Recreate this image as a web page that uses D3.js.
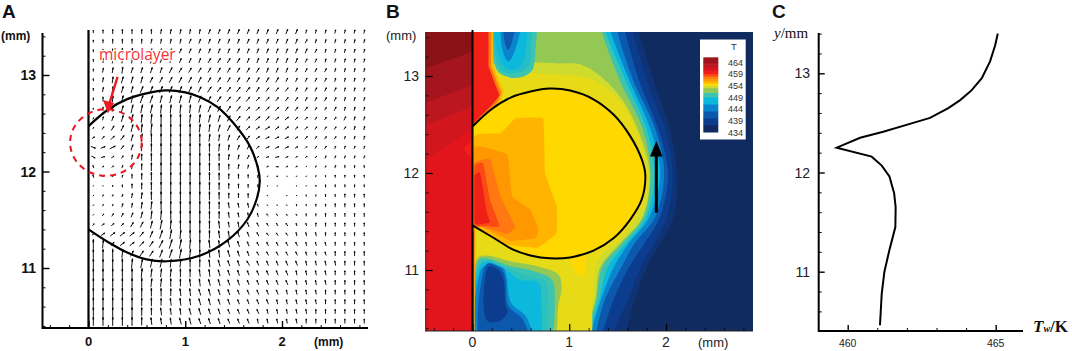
<!DOCTYPE html>
<html>
<head>
<meta charset="utf-8">
<script src="https://cdn.jsdelivr.net/npm/d3@7"></script>
<style>
  body { margin: 0; background: #fff; }
  svg { display: block; font-family: "Liberation Sans", Arial, sans-serif; }
  .axis path, .axis line { stroke: #000; }
  .soft { filter: blur(0.4px); }
  .softer { filter: blur(0.7px); }
</style>
</head>
<body>
<div id="chart"></div>
<script>
// ---- panel A: velocity field, hundredths of a mm, rows top to bottom
var vecX = [0.05,0.15,0.25,0.35,0.45,0.55,0.65,0.75,0.85,0.95,1.05,1.15,1.25,1.35,1.45,1.55,1.65,1.75,1.85,1.95,2.05,2.15,2.25,2.35,2.45,2.55,2.65,2.75,2.85];
var vecY = [13.45,13.35,13.25,13.15,13.05,12.95,12.85,12.75,12.65,12.55,12.45,12.35,12.25,12.15,12.05,11.95,11.85,11.75,11.65,11.55,11.45,11.35,11.25,11.15,11.05,10.95,10.85,10.75,10.65,10.55,10.45];
var vecU = [
  [0,0,0,0,0,0,0,1,1,1,1,1,2,2,2,2,2,2,2,2,2,2,1,1,1,1,1,1,1],
  [0,0,0,0,0,0,1,1,1,1,2,2,2,2,2,2,2,2,2,2,2,2,2,1,1,1,1,1,1],
  [0,0,0,0,1,1,1,1,2,2,2,2,2,2,2,2,2,2,2,2,2,2,2,2,1,1,1,1,1],
  [0,0,1,1,1,1,2,2,2,2,2,2,3,3,3,3,2,2,2,2,2,2,2,2,1,1,1,1,1],
  [0,1,1,1,2,2,2,2,3,3,3,3,3,3,3,3,3,3,2,2,2,2,2,2,2,1,1,1,1],
  [0,1,1,2,2,2,3,3,3,3,3,3,3,3,3,3,3,3,3,3,2,2,2,2,2,1,1,1,1],
  [0,1,1,2,2,3,3,3,3,3,3,3,4,4,4,4,4,3,3,3,3,2,2,2,2,2,1,1,1],
  [0,0,1,2,2,3,3,2,2,2,2,3,3,4,4,4,4,4,4,3,3,3,2,2,2,2,1,1,1],
  [0,0,1,2,2,2,2,1,1,1,1,2,3,3,4,4,4,4,4,4,3,3,3,2,2,2,1,1,1],
  [1,1,2,2,2,1,1,0,0,0,1,1,2,2,3,4,4,5,4,4,4,3,3,2,2,2,2,1,1],
  [1,2,3,3,2,1,1,0,0,0,0,1,1,2,3,3,4,4,5,4,4,3,3,2,2,2,2,1,1],
  [3,3,4,4,2,1,0,0,0,0,0,0,1,1,2,3,3,4,4,4,4,3,3,2,2,2,1,1,1],
  [5,5,6,3,2,1,0,0,0,0,0,0,0,1,1,2,2,3,4,4,4,3,2,2,2,1,1,1,1],
  [4,4,3,2,1,0,0,0,0,0,0,0,0,0,1,1,2,2,3,4,3,2,2,2,1,1,1,1,1],
  [-1,2,2,1,1,0,0,0,0,0,0,0,0,0,0,1,1,1,2,3,2,2,1,1,1,1,0,0,0],
  [-1,0,1,1,0,0,0,0,0,0,0,0,0,0,0,0,0,1,1,2,1,1,1,1,0,0,0,0,0],
  [0,0,0,0,0,0,0,0,0,0,0,0,0,0,0,0,0,0,0,1,0,0,0,0,0,0,0,0,0],
  [1,1,1,1,1,1,0,0,0,0,0,0,0,0,0,0,0,0,-1,0,0,0,0,0,0,0,0,0,0],
  [1,1,1,1,1,1,1,0,0,0,0,0,0,0,-1,-1,-1,-1,-1,-1,-1,0,0,0,0,0,0,0,0],
  [1,2,2,2,2,2,1,1,0,0,0,0,0,0,-1,-1,-1,-1,-2,-2,-1,-1,0,0,0,0,0,0,0],
  [2,3,3,3,3,3,2,2,1,0,0,0,0,-1,-1,-1,-2,-2,-2,-2,-2,-1,-1,0,0,0,0,0,0],
  [3,4,5,5,5,4,3,3,2,1,0,0,0,-1,-1,-2,-2,-2,-2,-2,-2,-1,-1,-1,0,0,0,0,0],
  [0,1,3,5,5,5,4,4,3,2,1,0,-1,-1,-2,-2,-2,-2,-2,-2,-2,-2,-1,-1,-1,0,0,0,0],
  [0,0,0,1,3,4,4,3,3,2,1,0,-1,-1,-2,-2,-2,-2,-2,-2,-2,-2,-1,-1,-1,0,0,0,0],
  [0,0,0,0,1,2,2,2,1,1,0,0,-1,-2,-2,-2,-3,-2,-2,-2,-2,-2,-1,-1,-1,-1,0,0,0],
  [0,0,0,0,0,1,1,1,1,0,0,-1,-1,-2,-2,-2,-2,-2,-2,-2,-2,-1,-1,-1,-1,0,0,0,0],
  [0,0,0,0,0,0,1,1,0,0,-1,-1,-2,-2,-2,-2,-2,-2,-2,-2,-2,-1,-1,-1,-1,0,0,0,0],
  [0,0,0,0,0,0,0,0,0,-1,-1,-2,-2,-2,-2,-2,-2,-2,-2,-2,-1,-1,-1,-1,0,0,0,0,0],
  [0,0,0,0,0,0,0,0,-1,-1,-1,-2,-2,-2,-2,-2,-2,-2,-2,-1,-1,-1,-1,-1,0,0,0,0,0],
  [0,0,0,0,0,0,0,-1,-1,-1,-2,-2,-2,-2,-2,-2,-2,-2,-1,-1,-1,-1,-1,0,0,0,0,0,0],
  [0,0,0,0,0,0,-1,-1,-1,-2,-2,-2,-2,-2,-2,-2,-2,-1,-1,-1,-1,-1,0,0,0,0,0,0,0]
];
var vecV = [
  [3,4,5,5,5,5,5,5,5,5,5,5,5,5,5,5,5,5,5,5,5,5,4,4,4,4,4,4,4],
  [3,4,5,5,5,5,5,5,5,5,5,5,5,5,5,5,5,5,5,5,5,5,4,4,4,4,4,4,4],
  [3,4,5,6,6,5,5,5,5,5,5,5,5,5,5,5,5,5,5,5,5,5,5,4,4,4,4,4,4],
  [3,5,6,6,6,6,6,5,5,5,5,5,5,5,5,5,5,5,5,5,5,5,4,4,4,4,4,4,4],
  [3,5,6,7,6,6,6,6,6,5,5,5,5,5,5,5,5,5,5,5,5,4,4,4,4,4,4,4,4],
  [3,5,7,7,7,7,6,6,6,6,6,6,5,5,5,5,5,5,5,5,4,4,4,4,4,4,4,4,4],
  [3,5,7,7,7,7,7,7,7,7,6,6,6,5,5,5,5,5,4,4,4,4,4,4,4,4,4,4,4],
  [3,5,7,8,8,8,8,8,8,8,8,7,6,6,5,5,5,4,4,4,4,4,4,4,4,4,4,4,4],
  [2,4,6,7,9,9,9,9,9,9,9,8,7,6,6,5,4,4,4,4,4,4,4,3,3,4,4,4,4],
  [2,4,5,7,9,9,10,10,10,10,9,9,8,7,6,5,4,4,4,3,3,3,3,3,3,3,4,4,4],
  [2,3,5,6,8,9,10,10,10,10,10,9,8,7,6,5,4,3,3,3,3,3,3,3,3,3,3,4,4],
  [2,3,4,5,7,9,10,10,10,10,10,9,8,7,6,5,4,3,2,2,2,2,3,3,3,3,3,3,4],
  [-2,2,3,4,6,8,9,10,10,10,10,10,9,8,6,5,4,3,2,2,2,2,2,3,3,3,3,3,3],
  [-2,1,2,3,5,7,9,10,10,10,10,10,9,8,6,5,4,2,1,1,1,2,2,2,3,3,3,3,3],
  [3,1,2,3,5,7,9,10,10,10,10,10,9,8,6,5,4,2,1,0,1,1,1,2,2,3,3,3,3],
  [3,1,1,3,5,7,9,10,10,10,10,10,9,8,6,5,4,3,1,0,0,1,1,2,2,3,3,3,3],
  [1,1,2,3,5,7,9,10,10,10,10,10,9,8,6,5,4,3,1,0,0,1,1,2,3,3,3,3,3],
  [1,2,2,3,5,7,9,10,10,10,10,10,9,8,6,5,5,3,1,0,1,1,2,2,3,3,4,4,4],
  [1,2,2,4,5,7,9,10,10,10,10,10,9,8,6,5,5,3,1,1,1,2,2,3,3,4,4,4,4],
  [1,2,3,4,5,7,9,10,10,10,10,10,9,8,6,5,5,4,2,2,2,2,3,3,4,4,4,4,4],
  [2,2,3,3,5,6,8,10,10,10,10,10,9,8,6,6,5,4,3,3,3,3,3,4,4,4,4,4,4],
  [2,3,4,4,4,5,7,9,10,10,10,10,9,8,7,6,5,4,3,3,3,4,4,4,4,4,4,4,4],
  [10,9,4,4,4,5,6,8,10,10,10,10,9,8,7,6,5,4,4,4,4,4,4,4,4,4,4,4,4],
  [10,10,10,9,6,6,6,8,9,10,10,10,9,8,7,6,5,4,4,4,4,4,4,4,4,5,5,5,5],
  [10,10,10,10,10,10,9,9,9,9,9,9,8,7,6,6,5,5,5,5,5,5,5,5,5,5,5,5,5],
  [10,10,10,10,10,10,9,9,9,9,9,8,8,7,6,6,5,5,5,5,5,5,5,5,5,5,5,5,5],
  [10,10,10,10,10,10,9,9,9,8,8,8,7,7,6,6,5,5,5,5,5,5,5,5,5,5,5,5,5],
  [10,10,10,10,10,10,9,9,8,8,8,7,7,6,6,5,5,5,5,5,5,5,5,5,5,5,5,5,5],
  [10,10,10,10,10,9,9,8,8,8,7,7,7,6,6,5,5,5,5,5,5,5,5,5,5,5,5,5,5],
  [10,10,10,10,10,9,8,8,7,7,7,7,6,6,5,5,5,5,5,5,5,5,5,5,5,5,5,5,5],
  [10,10,10,10,10,9,8,7,7,7,7,6,6,6,5,5,5,5,5,5,5,5,5,5,5,5,5,5,5]
];

// bubble outlines in mm
var bubbleA = [[0,12.47],[0.2,12.64],[0.4,12.75],[0.6,12.81],[0.8,12.84],[1,12.82],[1.155,12.77],[1.33,12.67],[1.5,12.5],[1.67,12.26],[1.75,12.04],[1.77,11.9],[1.74,11.72],[1.64,11.5],[1.43,11.28],[1.155,11.13],[0.81,11.07],[0.6,11.09],[0.4,11.16],[0.2,11.27],[0,11.4]];
var bubbleB = [[0,12.48],[0.2,12.66],[0.4,12.78],[0.6,12.84],[0.8,12.87],[1.01,12.85],[1.25,12.76],[1.46,12.6],[1.63,12.38],[1.75,12.14],[1.786,11.98],[1.75,11.73],[1.63,11.52],[1.46,11.33],[1.25,11.2],[1.01,11.13],[0.8,11.12],[0.6,11.15],[0.42,11.21],[0.22,11.33],[0,11.46]];

// ---- panel B: temperature colour map and contour bands
var tempLevels = [434,437,440,443,446,449,451,453,454,455,456,457,458,459,460,461,462,463,464,466];
var tempColors = ["#0f2b5f","#0c3c8e","#0b58ac","#0a84cc","#0cb8dc","#3cc4b0","#93c855","#cfdc2e","#ffd800","#ffb400","#ff9800","#ff7812","#fb4a14","#f02018","#e2151c","#d2161e","#bc1620","#ad1520","#9c141b","#8a1216"];
var legendTicks = [464,459,454,449,444,439,434];

// outer plume, then the cold pockets next to the wall
var plumeLevels = [435.5,437,440,443,446,449,451,453,453.5, 451,449,448,446,443,440,437, 449,447.5,446,443,440, 454];
var plumeShapes = [
  [[1.68,13.6],[1.72,13.45],[1.87,12.96],[2.04,12.45],[2.11,12],[2.08,11.55],[1.94,11.28],[1.8,11.03],[1.68,10.7],[1.59,10.38],[1.53,10.2],[-0.7,10.2],[-0.7,13.6]],
  [[1.62,13.6],[1.66,13.45],[1.8,12.96],[1.99,12.45],[2.07,12],[2.01,11.55],[1.88,11.28],[1.74,11.03],[1.61,10.7],[1.46,10.38],[1.38,10.2],[-0.7,10.2],[-0.7,13.6]],
  [[1.55,13.6],[1.58,13.45],[1.72,12.96],[1.92,12.45],[2.02,12],[1.94,11.55],[1.78,11.28],[1.62,11.03],[1.46,10.7],[1.35,10.38],[1.28,10.2],[-0.7,10.2],[-0.7,13.6]],
  [[1.48,13.6],[1.5,13.45],[1.66,12.96],[1.89,12.45],[1.98,12],[1.89,11.55],[1.68,11.28],[1.54,11.03],[1.37,10.7],[1.28,10.38],[1.22,10.2],[-0.7,10.2],[-0.7,13.6]],
  [[1.4,13.6],[1.43,13.45],[1.62,12.96],[1.84,12.45],[1.94,12],[1.83,11.55],[1.62,11.28],[1.46,11.03],[1.33,10.7],[1.23,10.38],[1.18,10.2],[-0.7,10.2],[-0.7,13.6]],
  [[1.35,13.6],[1.38,13.45],[1.58,12.96],[1.8,12.45],[1.88,12],[1.8,11.55],[1.59,11.28],[1.4,11.03],[1.31,10.7],[1.21,10.38],[1.16,10.2],[-0.7,10.2],[-0.7,13.6]],
  [[1.32,13.6],[1.34,13.45],[1.52,12.96],[1.76,12.45],[1.84,12],[1.77,11.55],[1.55,11.28],[1.34,11.03],[1.28,10.7],[1.19,10.38],[1.14,10.2],[-0.7,10.2],[-0.7,13.6]],
  [[-0.7,13.6],[0.2,13.6],[0.23,13.12],[0.5,13.14],[0.9,13.13],[1.11,13.12],[1.32,13],[1.56,12.74],[1.76,12.31],[1.83,12],[1.76,11.55],[1.53,11.28],[1.32,11.03],[1.27,10.7],[1.18,10.38],[1.13,10.2],[-0.7,10.2]],
  [[-0.7,13.6],[0.22,13.6],[0.22,13.06],[0.6,13.03],[0.9,13.01],[1.25,12.96],[1.59,12.65],[1.79,12.1],[1.78,11.7],[1.55,11.35],[1.3,11.1],[1.24,10.7],[1.16,10.2],[-0.7,10.2]],
  [[0.04,10.2],[0.05,11.12],[0.15,11.15],[0.39,11.09],[0.66,11.04],[0.89,10.95],[0.92,10.8],[0.89,10.66],[0.8,10.2]],
  [[0.06,10.2],[0.07,11.11],[0.15,11.12],[0.39,11.04],[0.63,10.99],[0.82,10.9],[0.85,10.74],[0.75,10.2]],
  [[0.07,10.2],[0.08,11.07],[0.15,11.1],[0.37,11.02],[0.56,10.94],[0.75,10.89],[0.78,10.7],[0.71,10.2]],
  [[0.07,10.2],[0.08,11.05],[0.16,11.09],[0.35,11],[0.49,10.9],[0.68,10.87],[0.71,10.66],[0.66,10.2]],
  [[0.08,10.2],[0.09,11.01],[0.15,11.05],[0.32,11.02],[0.35,10.94],[0.4,10.66],[0.56,10.51],[0.61,10.2]],
  [[0.11,10.2],[0.12,11.01],[0.16,11.07],[0.3,11.01],[0.34,10.91],[0.37,10.63],[0.52,10.49],[0.58,10.2]],
  [[0.15,10.48],[0.14,10.97],[0.18,11.04],[0.3,10.96],[0.34,10.65],[0.36,10.56],[0.29,10.48]],
  [[0.215,13.6],[0.215,13.17],[0.28,13.03],[0.44,12.98],[0.61,13.05],[0.65,13.27],[0.63,13.6]],
  [[0.23,13.6],[0.235,13.2],[0.31,13.05],[0.45,13.03],[0.58,13.1],[0.6,13.27],[0.58,13.6]],
  [[0.25,13.6],[0.26,13.24],[0.35,13.08],[0.47,13.08],[0.54,13.2],[0.52,13.6]],
  [[0.32,13.6],[0.31,13.27],[0.37,13.15],[0.43,13.24],[0.49,13.6]],
  [[0.335,13.6],[0.335,13.34],[0.37,13.27],[0.41,13.36],[0.44,13.6]],
  [[1,11.14],[1.16,11.14],[1.16,10.98],[1.12,10.93],[1.07,10.98]]
];

// hot bands along and behind the wall
var wallLevels = [455,457,459,460,461,462,463.5,466,459];
var wallShapes = [
  [[0.215,13.6],[0.215,13.1],[0.28,12.93],[0.32,12.85],[0.3,12.75],[0.03,12.51],[0.03,11.4],[0.02,10.2],[-0.7,10.2],[-0.7,13.6]],
  [[0.19,13.6],[0.19,13.1],[0.265,12.9],[0.3,12.83],[0.25,12.72],[0.03,12.51],[0.015,10.2],[-0.7,10.2],[-0.7,13.6]],
  [[0.165,13.6],[0.165,13.1],[0.25,12.87],[0.28,12.8],[0.2,12.7],[0.01,12.51],[0.01,10.2],[-0.7,10.2],[-0.7,13.6]],
  [[0,13.6],[0,10.2],[-0.7,10.2],[-0.7,13.6]],
  [[-0.7,13.6],[0,13.6],[0,12.45],[-0.7,12]],
  [[-0.7,13.6],[0,13.6],[0,12.69],[-0.7,12.4]],
  [[-0.7,13.6],[0,13.6],[0,12.91],[-0.7,12.64]],
  [[-0.7,13.6],[0,13.6],[0,13.25],[-0.7,13]],
  [[-0.09,12.25],[0,12.35],[0,12.13]]
];

// warm patches inside the bubble
var innerLevels = [455,456,457,458,459];
var innerShapes = [
  [[0.02,12.38],[0.29,12.41],[0.44,12.56],[0.73,12.56],[0.75,12],[0.87,11.66],[0.87,11.38],[0.67,11.23],[0.36,11.26],[0.04,11.42],[0.01,11.42]],
  [[0.02,12.27],[0.36,12.19],[0.41,11.76],[0.6,11.62],[0.68,11.42],[0.65,11.33],[0.39,11.3],[0.08,11.45],[0.02,11.45]],
  [[0.02,12.1],[0.18,12.14],[0.29,11.76],[0.44,11.45],[0.36,11.37],[0.08,11.45],[0.02,11.45]],
  [[0.02,12.07],[0.11,12.1],[0.18,11.73],[0.28,11.45],[0.11,11.45],[0.02,11.47]],
  [[0.02,11.97],[0.08,12],[0.15,11.59],[0.18,11.49],[0.06,11.47],[0.02,11.49]]
];

// ---- panel C: wall temperature profile
var wallTemp = [465.07,464.98,464.81,464.53,464.19,463.8,463.4,462.78,462.1,461.2,460.42,459.63,460.81,461.15,461.41,461.57,461.62,461.61,461.41,461.24,461.15,461.09];
var wallY = [13.4,13.28,13.12,12.95,12.83,12.73,12.65,12.55,12.49,12.41,12.35,12.25,12.16,12.07,11.96,11.79,11.65,11.45,11.22,11,10.78,10.46];

var xMajor = [0,1,2], yMajor = [11,12,13];
var xMinor = [-0.4,-0.2,0.2,0.4,0.6,0.8,1.2,1.4,1.6,1.8,2.2,2.4,2.6,2.8];
var yMinor = [10.4,10.6,10.8,11.2,11.4,11.6,11.8,12.2,12.4,12.6,12.8,13.2,13.4];
var cxMajor = [460,465], cxMinor = [461,462,463,464];

var svg = d3.select("#chart").append("svg").attr("width", 1072).attr("height", 351);

// scales
var xA = d3.scaleLinear().domain([0, 2]).range([88.5, 282]);
var yA = d3.scaleLinear().domain([11, 13]).range([268, 75]);
var xB = d3.scaleLinear().domain([0, 2]).range([472.5, 666]);
var yB = d3.scaleLinear().domain([11, 13]).range([270, 76]);
var xC = d3.scaleLinear().domain([460, 465]).range([847.7, 995.7]);
var yC = d3.scaleLinear().domain([11, 13]).range([271.7, 73.3]);
var tempColor = d3.scaleLinear().domain(tempLevels).range(tempColors);

function addTicks(g, axis, values, size, width) {
  var a = g.append("g").attr("class", "axis").call(axis.tickValues(values).tickSize(-size).tickFormat(""));
  a.select(".domain").remove();
  a.selectAll("line").attr("stroke-width", width);
}

// draws ticks and labels of one panel
function addAxes(x, y, left, bottom, top, right, opts) {
  var gx = svg.append("g").attr("transform", `translate(0, ${bottom})`);
  var gy = svg.append("g").attr("transform", `translate(${left}, 0)`);
  addTicks(gx, d3.axisBottom(x), opts.xMinor, opts.minor, opts.tick);
  addTicks(gx, d3.axisBottom(x), opts.xMajor, opts.major, opts.tick + 0.4);
  addTicks(gy, d3.axisLeft(y), opts.yMinor, opts.minor, opts.tick);
  addTicks(gy, d3.axisLeft(y), opts.yMajor, opts.major, opts.tick + 0.4);
  svg.append("line").attr("x1", left).attr("x2", left).attr("y1", top).attr("y2", bottom + opts.line / 2)
    .attr("stroke", opts.color).attr("stroke-width", opts.line);
  svg.append("line").attr("x1", left).attr("x2", right).attr("y1", bottom).attr("y2", bottom)
    .attr("stroke", opts.color).attr("stroke-width", opts.line);
  opts.xMajor.forEach(function(d) {
    svg.append("text").attr("x", x(d)).attr("y", opts.xLabelY).attr("text-anchor", "middle")
      .attr("font-size", opts.xFont).attr("font-weight", opts.weight).attr("fill", opts.text).text(d);
  });
  opts.yMajor.forEach(function(d) {
    svg.append("text").attr("x", opts.yLabelX).attr("y", y(d) + 5).attr("text-anchor", "end")
      .attr("font-size", 14).attr("font-weight", opts.weight).attr("fill", opts.text).text(d);
  });
}

function addLabel(x, y, str, size, weight, fill) {
  return svg.append("text").attr("x", x).attr("y", y).attr("font-size", size)
    .attr("font-weight", weight || "normal").attr("fill", fill || "#111").text(str);
}

// ---------- panel A
var vecData = [];
vecY.forEach(function(yv, r) {
  vecX.forEach(function(xv, c) {
    vecData.push({x: xv, y: yv, u: vecU[r][c] / 100, v: vecV[r][c] / 100});
  });
});

var fieldG = svg.append("g").attr("class", "soft");
fieldG.selectAll("line.shaft").data(vecData).join("line").attr("class", "shaft")
  .attr("x1", d => xA(d.x - d.u / 2)).attr("y1", d => yA(d.y - d.v / 2))
  .attr("x2", d => xA(d.x + d.u / 2)).attr("y2", d => yA(d.y + d.v / 2))
  .attr("stroke", "#111").attr("stroke-width", 1);
fieldG.selectAll("line.head").data(vecData).join("line").attr("class", "head")
  .attr("x1", d => xA(d.x + d.u * 0.15)).attr("y1", d => yA(d.y + d.v * 0.15))
  .attr("x2", d => xA(d.x + d.u * 0.4)).attr("y2", d => yA(d.y + d.v * 0.4))
  .attr("stroke", "#000").attr("stroke-width", 1.5);

var lineA = d3.line().x(d => xA(d[0])).y(d => yA(d[1])).curve(d3.curveCatmullRom.alpha(0.5));
svg.append("path").attr("d", lineA(bubbleA)).attr("fill", "none").attr("stroke", "#000").attr("stroke-width", 2.2);
svg.append("line").attr("x1", xA(0)).attr("x2", xA(0)).attr("y1", 30).attr("y2", 328)
  .attr("stroke", "#000").attr("stroke-width", 2.2);

addAxes(xA, yA, 42.5, 328, 33, 368, {xMajor: xMajor, xMinor: xMinor, yMajor: yMajor, yMinor: yMinor,
  minor: 3, major: 7, tick: 1, line: 2, color: "#000", text: "#111", weight: "bold",
  xLabelY: 346, xFont: 13, yLabelX: 36});
addLabel(1, 40, "(mm)", 12, "bold");
addLabel(314, 346, "(mm)", 12, "bold");
addLabel(2, 18, "A", 19, "bold");

// microlayer marker
svg.append("ellipse").attr("cx", xA(0.18)).attr("cy", yA(12.3))
  .attr("rx", xA(0.37) - xA(0)).attr("ry", yA(12) - yA(12.345))
  .attr("fill", "none").attr("stroke", "#e9141f").attr("stroke-width", 2).attr("stroke-dasharray", "6 5");
svg.append("line").attr("x1", xA(0.3)).attr("y1", yA(12.98)).attr("x2", xA(0.215)).attr("y2", yA(12.7))
  .attr("stroke", "#f01822").attr("stroke-width", 2.4);
svg.append("path")
  .attr("d", d3.line()([[xA(0.15), yA(12.74)], [xA(0.265), yA(12.71)], [xA(0.2), yA(12.6)]]) + "Z")
  .attr("fill", "#f01822");
addLabel(99, 60, "microlayer", 15.5, "normal", "#f5333b")
  .style("font-family", "'Open Sans'").attr("stroke", "#fff").attr("stroke-width", 2.5).attr("paint-order", "stroke");

// ---------- panel B
svg.append("defs").append("clipPath").attr("id", "frameB").append("rect")
  .attr("x", 425.7).attr("y", 32).attr("width", 327.3).attr("height", 299);

var heatG = svg.append("g").attr("clip-path", "url(#frameB)");
var heatInner = heatG.append("g").attr("class", "softer");
heatInner.append("rect").attr("x", 420).attr("y", 28).attr("width", 340).attr("height", 310).attr("fill", tempColor(434));

var bandSmooth = d3.line().x(d => xB(d[0])).y(d => yB(d[1])).curve(d3.curveCatmullRomClosed.alpha(0.5));
var bandFlat = d3.line().x(d => xB(d[0])).y(d => yB(d[1])).curve(d3.curveLinearClosed);

function addBands(shapes, levels, gen) {
  shapes.forEach(function(s, i) {
    heatInner.append("path").attr("d", gen(s)).attr("fill", tempColor(levels[i]));
  });
}
addBands(plumeShapes, plumeLevels, bandSmooth);
addBands(wallShapes, wallLevels, bandFlat);

var lineB = d3.line().x(d => xB(d[0])).y(d => yB(d[1])).curve(d3.curveCatmullRom.alpha(0.5));
heatInner.append("path").attr("d", lineB(bubbleB) + "Z").attr("fill", tempColor(454));
addBands(innerShapes, innerLevels, d3.line().x(d => xB(d[0])).y(d => yB(d[1])).curve(d3.curveCardinalClosed.tension(0.75)));

heatG.append("path").attr("d", lineB(bubbleB)).attr("fill", "none").attr("stroke", "#000").attr("stroke-width", 2);

addAxes(xB, yB, 425.7, 331, 32, 753, {xMajor: xMajor, xMinor: xMinor, yMajor: yMajor, yMinor: yMinor,
  minor: 3, major: 7, tick: 0.8, line: 1, color: "#222", text: "#222", weight: "normal",
  xLabelY: 347, xFont: 14, yLabelX: 419});
svg.append("line").attr("x1", xB(0)).attr("x2", xB(0)).attr("y1", 30).attr("y2", 331)
  .attr("stroke", "#000").attr("stroke-width", 2);
addLabel(386, 40, "(mm)", 13, "normal", "#222");
addLabel(698, 347, "(mm)", 13, "normal", "#222");
addLabel(386, 18, "B", 19, "bold");

// rising arrow
svg.append("line").attr("x1", xB(1.9)).attr("x2", xB(1.9)).attr("y1", yB(11.59)).attr("y2", yB(12.2))
  .attr("stroke", "#000").attr("stroke-width", 3);
svg.append("path")
  .attr("d", d3.line()([[xB(1.9), yB(12.33)], [xB(1.835), yB(12.17)], [xB(1.965), yB(12.17)]]) + "Z")
  .attr("fill", "#000");

// legend
var legendY = d3.scaleLinear().domain([434, 464]).range([132, 62]);
svg.append("rect").attr("x", 700).attr("y", 39.5).attr("width", 45.7).attr("height", 100).attr("fill", "#fff");
var legendBands = d3.pairs(tempLevels);
var legendG = svg.append("g").attr("class", "soft");
legendG.selectAll("rect").data(legendBands).join("rect")
  .attr("x", 703.3).attr("width", 15)
  .attr("y", d => legendY(d[1]))
  .attr("height", d => legendY(d[0]) - legendY(d[1]) + 0.5)
  .attr("fill", d => tempColor(d[0]));
addLabel(731, 50, "T", 9.5, "normal", "#333");
svg.selectAll("text.leg").data(legendTicks).join("text").attr("class", "leg")
  .attr("x", 728).attr("y", d => legendY(d) + 3.5).attr("font-size", 9).attr("fill", "#333")
  .text(d => d);

// ---------- panel C
var profile = wallTemp.map((t, i) => [t, wallY[i]]);
var lineC = d3.line().x(d => xC(d[0])).y(d => yC(d[1]));
svg.append("path").attr("d", lineC(profile)).attr("fill", "none").attr("stroke", "#000")
  .attr("stroke-width", 2).attr("stroke-linejoin", "miter");

addAxes(xC, yC, 818.7, 331, 33, 1023, {xMajor: cxMajor, xMinor: cxMinor, yMajor: yMajor,
  yMinor: [10.6,10.8,11.2,11.4,11.6,11.8,12.2,12.4,12.6,12.8,13.2,13.4],
  minor: 3, major: 6, tick: 1, line: 2, color: "#000", text: "#222", weight: "normal",
  xLabelY: 347, xFont: 10.5, yLabelX: 810});
addLabel(772, 18, "C", 19, "bold");
var yTitle = addLabel(774, 38, "", 15, "normal", "#111").style("font-family", "'Liberation Serif'");
yTitle.append("tspan").attr("font-style", "italic").text("y");
yTitle.append("tspan").text("/mm");
var xTitle = addLabel(1033, 332, "", 17, "bold", "#111").style("font-family", "'Liberation Serif'");
xTitle.append("tspan").attr("font-style", "italic").text("T");
xTitle.append("tspan").attr("font-style", "italic").attr("font-size", 10).text("w");
xTitle.append("tspan").text("/K");
</script>
</body>
</html>
